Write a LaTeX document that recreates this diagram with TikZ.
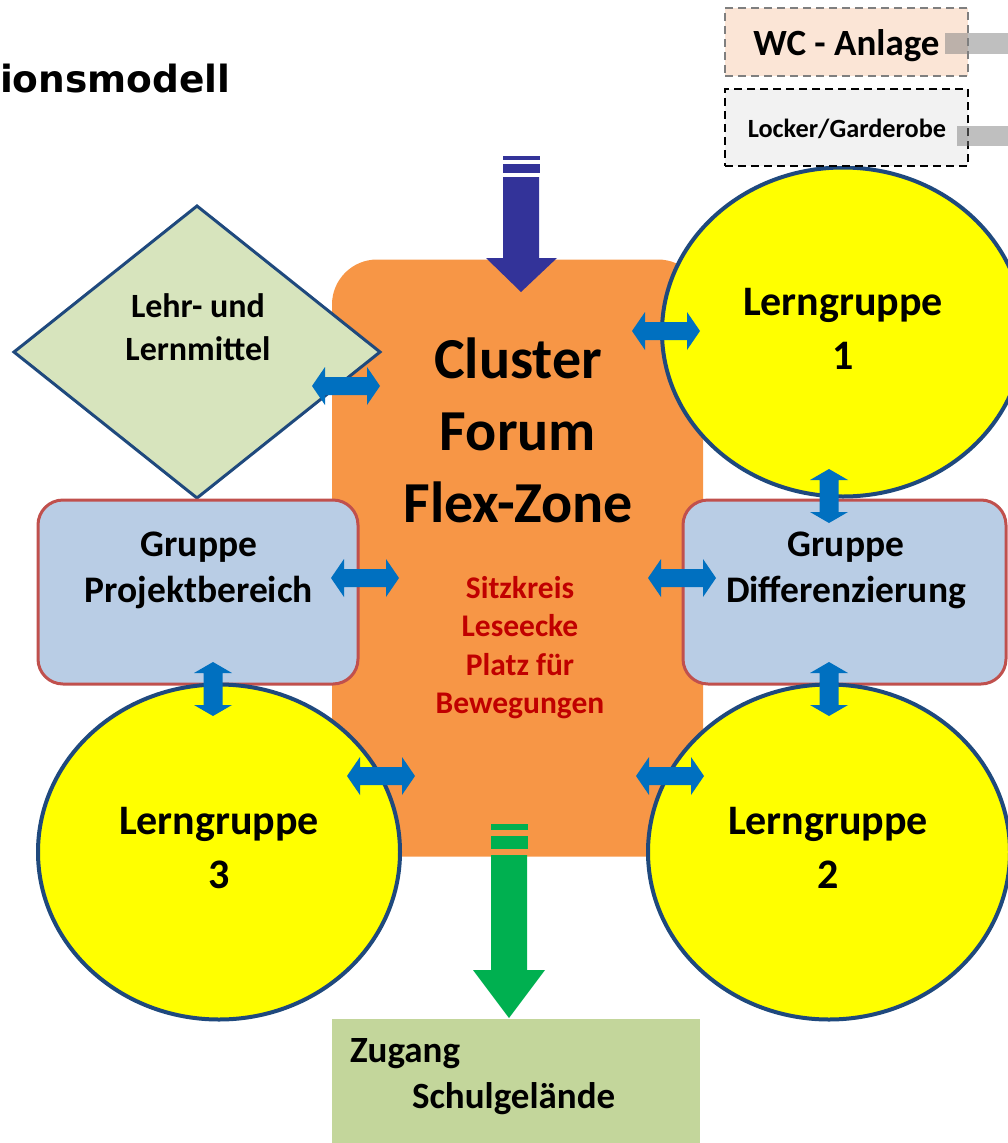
\documentclass[tikz,border=0pt]{standalone}
\usepackage{fontspec}
\setmainfont{Carlito}
\newfontfamily\headfont{DejaVu Sans}
\usetikzlibrary{shapes.geometric}

\definecolor{forum}{HTML}{F79646}
\definecolor{lehrfill}{HTML}{D7E4BD}
\definecolor{navyline}{HTML}{1F497D}
\definecolor{boxfill}{HTML}{B9CDE5}
\definecolor{boxline}{HTML}{C0504D}
\definecolor{linkblue}{HTML}{0070C0}
\definecolor{entryblue}{HTML}{333399}
\definecolor{exitgreen}{HTML}{00B050}
\definecolor{zugangfill}{HTML}{C3D69B}
\definecolor{wcfill}{HTML}{FBE5D6}
\definecolor{lockerfill}{HTML}{F2F2F2}
\definecolor{redtext}{HTML}{C00000}
\definecolor{bargray}{HTML}{7F7F7F}
\definecolor{lgyellow}{HTML}{FFFF00}

\newcommand{\fs}[2]{\fontsize{#1pt}{#2pt}\selectfont}

\begin{document}
\begin{tikzpicture}[x=1pt,y=-1pt,
  every node/.style={inner sep=0pt, outer sep=0pt},
  forumbox/.style={rectangle, rounded corners=45pt, fill=forum},
  groupbox/.style={rectangle, rounded corners=25pt, fill=boxfill, draw=boxline, line width=3pt},
  lerngruppe/.style={ellipse, fill=lgyellow, draw=navyline, line width=4pt},
  boldtext/.style={align=center, font=\bfseries},
  sidebox/.style={rectangle, dashed, line width=2.5pt, dash pattern=on 8pt off 5pt},
  linkarrow/.style={fill=linkblue},
  harrow/.pic={\fill[linkarrow] (-34,0) -- (-21,-19) -- (-21,-9) -- (21,-9) -- (21,-19) -- (34,0)
                 -- (21,19) -- (21,9) -- (-21,9) -- (-21,19) -- cycle;},
  varrow/.pic={\fill[linkarrow] (0,-27) -- (19,-16) -- (9.5,-16) -- (9.5,16) -- (19,16) -- (0,27)
                 -- (-19,16) -- (-9.5,16) -- (-9.5,-16) -- (-19,-16) -- cycle;}
]
\useasboundingbox (0,0) rectangle (1008,1143);
\clip (0,0) rectangle (1008,1143);

% central forum
\node[forumbox, minimum width=371pt, minimum height=597pt] (forum) at (517.5,558) {};

% teaching material
\node[diamond, fill=lehrfill, draw=navyline, line width=3pt,
      minimum width=366pt, minimum height=292pt] (lehr) at (197,352) {};

% group rooms
\node[groupbox, minimum width=320pt, minimum height=184pt] (projekt) at (198,592) {};
\node[groupbox, minimum width=323pt, minimum height=184pt] (diff) at (844.5,592) {};

% learning groups
\node[lerngruppe, minimum width=362pt, minimum height=329pt] (lg1) at (843,332) {};
\node[lerngruppe, minimum width=362pt, minimum height=335pt] (lg2) at (829,852) {};
\node[lerngruppe, minimum width=362pt, minimum height=335pt] (lg3) at (219,852) {};

% exit to the school grounds
\node[rectangle, fill=zugangfill, minimum width=368pt, minimum height=130pt] (zugang) at (516,1084) {};

% side rooms
\node[sidebox, fill=wcfill, draw=bargray, minimum width=243pt, minimum height=68pt] (wc) at (846.5,42) {};
\node[sidebox, fill=lockerfill, draw=black, minimum width=243pt, minimum height=77pt] (locker) at (846.5,127.5) {};
\fill[bargray, opacity=0.5] (945,33) rectangle (1008,54);
\fill[bargray, opacity=0.5] (957,126) rectangle (1008,146);

% texts
\node[anchor=base west, font=\headfont\bfseries\fs{37.5}{45}] (title) at (0,92) {ionsmodell};
\node[anchor=base, font=\bfseries\fs{37}{44}] (wctxt) at (846.5,55) {WC - Anlage};
\node[anchor=base, font=\bfseries\fs{26.3}{31}] (lockertxt) at (847,137) {Locker/Garderobe};

\node[boldtext, font=\bfseries\fs{58}{72}] (forumtxt) at (518,430) {Cluster\\Forum\\Flex-Zone};
\node[boldtext, font=\bfseries\fs{31.5}{38.5}, text=redtext] (forumuse) at (520,647.5)
     {Sitzkreis\\Leseecke\\Platz für\\Bewegungen};
\node[boldtext, font=\bfseries\fs{34}{43}] (lehrtxt) at (198,327) {Lehr- und\\Lernmittel};
\node[boldtext, font=\bfseries\fs{37.5}{46}] (projekttxt) at (199,570) {Gruppe\\Projektbereich};
\node[boldtext, font=\bfseries\fs{37.5}{46}] (difftxt) at (846,570) {Gruppe\\Differenzierung};
\node[boldtext, font=\bfseries\fs{42}{54}] (lg1txt) at (843,329) {Lerngruppe\\1};
\node[boldtext, font=\bfseries\fs{42}{54}] (lg2txt) at (828,848) {Lerngruppe\\2};
\node[boldtext, font=\bfseries\fs{42}{54}] (lg3txt) at (219,848) {Lerngruppe\\3};
\node[anchor=base west, font=\bfseries\fs{37}{44}] (zugangtxt) at (350,1062) {Zugang};
\node[anchor=base west, font=\bfseries\fs{37}{44}] (schultxt) at (412,1108) {Schulgelände};

% entrance arrow into the forum
\fill[entryblue] (503,156) rectangle (540,160);
\fill[entryblue] (503,164) rectangle (540,173);
\fill[entryblue] (503,177) -- (539,177) -- (539,258) -- (557,258) -- (521,292) -- (486,258) -- (503,258) -- cycle;

% exit arrow towards the school grounds
\fill[exitgreen] (491,824) rectangle (528,830);
\fill[exitgreen] (491,836) rectangle (528,849);
\fill[exitgreen] (491,855) -- (527,855) -- (527,970) -- (545,970) -- (509,1018) -- (473,970) -- (491,970) -- cycle;

% links between the zones
\pic at (346,386) {harrow};
\pic at (666,331) {harrow};
\pic at (829,496) {varrow};
\pic at (365,578) {harrow};
\pic at (682,578) {harrow};
\pic at (213,689) {varrow};
\pic at (829,689) {varrow};
\pic at (381,776) {harrow};
\pic at (670,776) {harrow};
\end{tikzpicture}
\end{document}
